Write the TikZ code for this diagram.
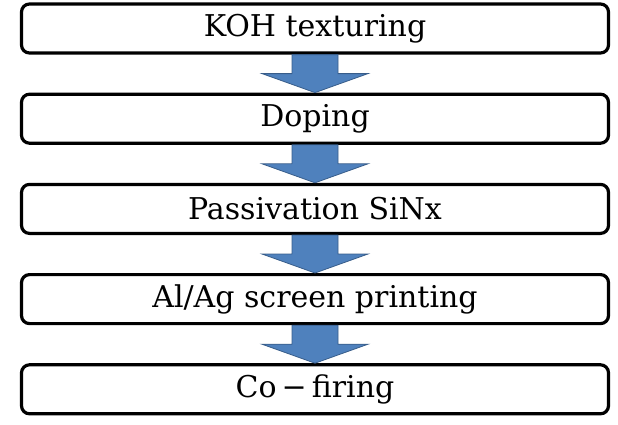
\documentclass[tikz,border=0pt]{standalone}
\usepackage{fontspec}
\setmainfont{DejaVu Serif}
\usetikzlibrary{positioning,calc}

\definecolor{arrowblue}{RGB}{79,129,189}
\definecolor{arrowedge}{RGB}{56,93,138}

\tikzset{
  stepbox/.style={draw, line width=3.2pt, rounded corners=8pt, fill=white,
    minimum width=587pt, minimum height=49pt, inner sep=0pt,
    font=\fontsize{30}{32}\selectfont},
  blockarrow/.style={draw=arrowedge, line width=0.8pt, fill=arrowblue}
}

% block arrow from the bottom of one box to the top of the next
\newcommand{\flowarrow}[2]{%
  \coordinate (mid) at ($(#1.south)!0.5!(#2.north)$);
  \draw[blockarrow] ($(#1.south)+(-23pt,0)$) -- ($(#1.south)+(23pt,0)$)
    -- (mid -| {$(#1.south)+(23pt,0)$}) -- ($(mid)+(53pt,0)$)
    -- (#2.north) -- ($(mid)+(-53pt,0)$)
    -- (mid -| {$(#1.south)+(-23pt,0)$}) -- cycle;
}

\begin{document}
\begin{tikzpicture}[x=1pt, y=-1pt]
  \useasboundingbox (0,0) rectangle (618,424);
  % process steps
  \node[stepbox] (koh) at (315,28.5) {KOH texturing};
  \node[stepbox, below=38pt of koh] (doping) {Doping};
  \node[stepbox, below=38pt of doping] (passiv) {Passivation SiNx};
  \node[stepbox, below=38pt of passiv] (print) {Al/Ag screen printing};
  \node[stepbox, below=38pt of print] (firing) {Co\,−\,firing};
  % arrows between steps
  \flowarrow{koh}{doping}
  \flowarrow{doping}{passiv}
  \flowarrow{passiv}{print}
  \flowarrow{print}{firing}
\end{tikzpicture}
\end{document}
